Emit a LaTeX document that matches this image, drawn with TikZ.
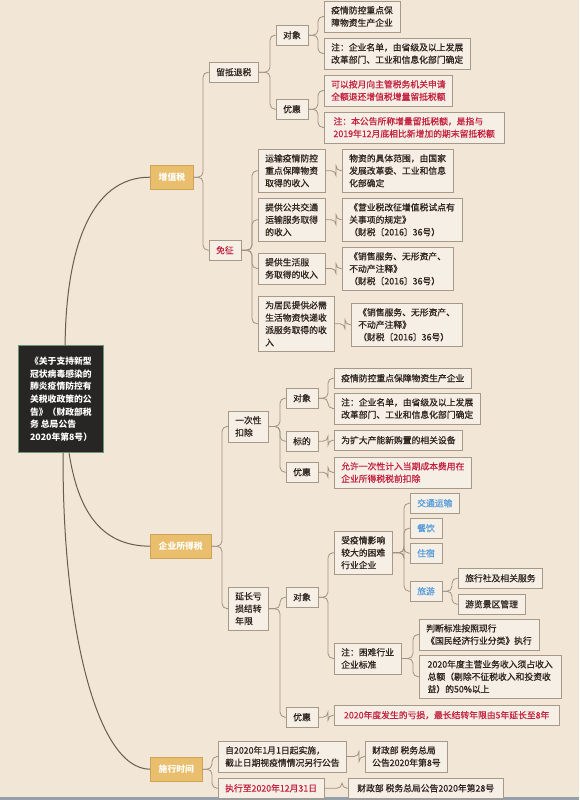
\documentclass[tikz,border=0pt]{standalone}
\usepackage{fontspec}
\setmainfont{Noto Sans CJK SC}
\font\cardfnt="Noto Sans CJK SC:embolden=0.7" at 8.8pt
\definecolor{paper}{RGB}{242,231,215}
\definecolor{cardfill}{RGB}{246,239,230}
\definecolor{cardline}{RGB}{168,152,136}
\definecolor{ink}{RGB}{45,36,30}
\definecolor{hotred}{RGB}{196,34,64}
\definecolor{coolblue}{RGB}{88,158,218}
\definecolor{amber}{RGB}{233,190,108}
\definecolor{amberline}{RGB}{206,162,88}
\definecolor{slate}{RGB}{40,38,36}
\definecolor{sage}{RGB}{108,150,118}
\definecolor{twig}{RGB}{160,145,128}
\definecolor{stem}{RGB}{105,92,78}
\definecolor{barline}{RGB}{150,160,170}
\tikzset{
  leaf/.style   = {draw=cardline, fill=cardfill, text=ink, anchor=north west, align=left,
                   font=\fontsize{8.8}{12.4}\selectfont\cardfnt, inner xsep=7pt, inner ysep=5pt,
                   minimum height=20pt},
  branch/.style = {draw=amberline, fill=amber, text=white, anchor=north west,
                   font=\fontsize{8.8}{12.4}\selectfont\bfseries, inner xsep=8.5pt,
                   minimum height=24pt},
  topic/.style  = {draw=sage, line width=1.2pt, fill=slate, text=white, anchor=north west,
                   align=left, font=\fontsize{8.8}{12.6}\selectfont\bfseries,
                   minimum width=85pt, minimum height=107pt},
  hot/.style    = {text=hotred},
  cool/.style   = {text=coolblue},
  wire/.style   = {draw=twig, line width=0.8pt, rounded corners=5pt},
  link/.style   = {draw=stem, line width=1pt},
}
\begin{document}
\begin{tikzpicture}[x=1pt,y=-1pt]
  \fill[paper] (0,0) rectangle (579,800);
  \useasboundingbox (0,0) rectangle (579,800);
  \fill[barline] (0,797) rectangle (579,800);

  % root and main branches
  \node[topic] (root) at (18,345) {《关于支持新型\\冠状病毒感染的\\肺炎疫情防控有\\关税收政策的公\\告》（财政部税\\务 总局公告\\2020年第8号）};
  \node[branch] (zzs) at (150,165) {增值税};
  \node[branch] (qys) at (150,534) {企业所得税};
  \node[branch] (ssj) at (150,757) {施行时间};
  \draw[link] ([xshift=4pt]root.north) .. controls (66,250) and (90,177) .. (zzs.west);
  \draw[link] ([xshift=8pt]root.south) .. controls (78,510) and (100,546) .. (qys.west);
  \draw[link] ([xshift=2pt]root.south) .. controls (62,620) and (95,769) .. (ssj.west);

  % 增值税
  \node[leaf] (ldts) at (209,62) {留抵退税};
  \node[leaf,hot] (mz) at (209,240) {免征};
  \node[leaf] (dx1) at (276,25) {对象};
  \node[leaf] (yh1) at (276,99) {优惠};
  \node[leaf] (a1) at (324,1) {疫情防控重点保\\障物资生产企业};
  \node[leaf] (a2) at (324,38) {注：企业名单，由省级及以上发展\\改革部门、工业和信息化部门确定};
  \node[leaf,hot] (b1) at (324,75) {可以按月向主管税务机关申请\\全额退还增值税增量留抵税额};
  \node[leaf,hot,minimum width=180pt] (b2) at (324,112) {注：本公告所称增量留抵税额，是指与\\2019年12月底相比新增加的期末留抵税额};
  \node[leaf] (m1) at (258,149) {运输疫情防控\\重点保障物资\\取得的收入};
  \node[leaf] (m2) at (258,198) {提供公共交通\\运输服务取得\\的收入};
  \node[leaf] (m3) at (258,253) {提供生活服\\务取得的收入};
  \node[leaf] (m4) at (258,296) {为居民提供必需\\生活物资快递收\\派服务取得的收\\入};
  \node[leaf] (n1) at (342,149) {物资的具体范围，由国家\\发展改革委、工业和信息\\化部确定};
  \node[leaf] (n2) at (342,198) {《营业税改征增值税试点有\\关事项的规定》\\（财税〔2016〕36号）};
  \node[leaf] (n3) at (342,247) {《销售服务、无形资产、\\不动产注释》\\（财税〔2016〕36号）};
  \node[leaf] (n4) at (351,303) {《销售服务、无形资产、\\不动产注释》\\（财税〔2016〕36号）};

  % 企业所得税
  \node[leaf] (yc) at (228,411) {一次性\\扣除};
  \node[leaf] (yz) at (228,587) {延长亏\\损结转\\年限};
  \node[leaf] (dx2) at (286,388) {对象};
  \node[leaf] (bd) at (286,431) {标的};
  \node[leaf] (yh2) at (286,462) {优惠};
  \node[leaf] (c1) at (334,368) {疫情防控重点保障物资生产企业};
  \node[leaf] (c2) at (334,393) {注：企业名单，由省级及以上发展\\改革部门、工业和信息化部门确定};
  \node[leaf] (c3) at (334,430) {为扩大产能新购置的相关设备};
  \node[leaf,hot] (c4) at (334,457) {允许一次性计入当期成本费用在\\企业所得税税前扣除};
  \node[leaf] (dx3) at (286,587) {对象};
  \node[leaf] (yh3) at (286,707) {优惠};
  \node[leaf] (kn) at (334,531) {受疫情影响\\较大的困难\\行业企业};
  \node[leaf] (bz) at (334,643) {注：困难行业\\企业标准};
  \node[leaf,cool] (t1) at (410,493) {交通运输};
  \node[leaf,cool] (t2) at (410,518) {餐饮};
  \node[leaf,cool] (t3) at (410,543) {住宿};
  \node[leaf,cool] (t4) at (410,581) {旅游};
  \node[leaf] (t5) at (458,568) {旅行社及相关服务};
  \node[leaf] (t6) at (458,594) {游览景区管理};
  \node[leaf] (d1) at (419,619) {判断标准按照现行\\《国民经济行业分类》执行};
  \node[leaf,minimum width=142pt] (d2) at (419,655) {2020年度主营业务收入须占收入\\总额（剔除不征税收入和投资收\\益）的50\%以上};
  \node[leaf,hot,minimum width=225pt] (d3) at (334,705) {2020年度发生的亏损，最长结转年限由5年延长至8年};

  % 施行时间
  \node[leaf] (s1) at (218,741) {自2020年1月1日起实施，\\截止日期视疫情情况另行公告};
  \node[leaf,hot] (s2) at (218,778) {执行至2020年12月31日};
  \node[leaf] (s3) at (365,741) {财政部 税务总局\\公告2020年第8号};
  \node[leaf,minimum width=155pt] (s4) at (348,778) {财政部 税务总局公告2020年第28号};

  \foreach \p/\c in {zzs/ldts, zzs/mz, ldts/dx1, ldts/yh1, dx1/a1, dx1/a2, yh1/b1, yh1/b2,
                     mz/m1, mz/m2, mz/m3, mz/m4, m1/n1, m2/n2, m3/n3, m4/n4,
                     qys/yc, qys/yz, yc/dx2, yc/bd, yc/yh2, dx2/c1, dx2/c2, bd/c3, yh2/c4,
                     yz/dx3, yz/yh3, dx3/kn, dx3/bz, kn/t1, kn/t2, kn/t3, kn/t4, t4/t5, t4/t6,
                     bz/d1, bz/d2, yh3/d3, ssj/s1, ssj/s2, s1/s3, s2/s4}
    \draw[wire] (\p.east) -| ([xshift=-6pt]\c.west) -- (\c.west);
\end{tikzpicture}
\end{document}
